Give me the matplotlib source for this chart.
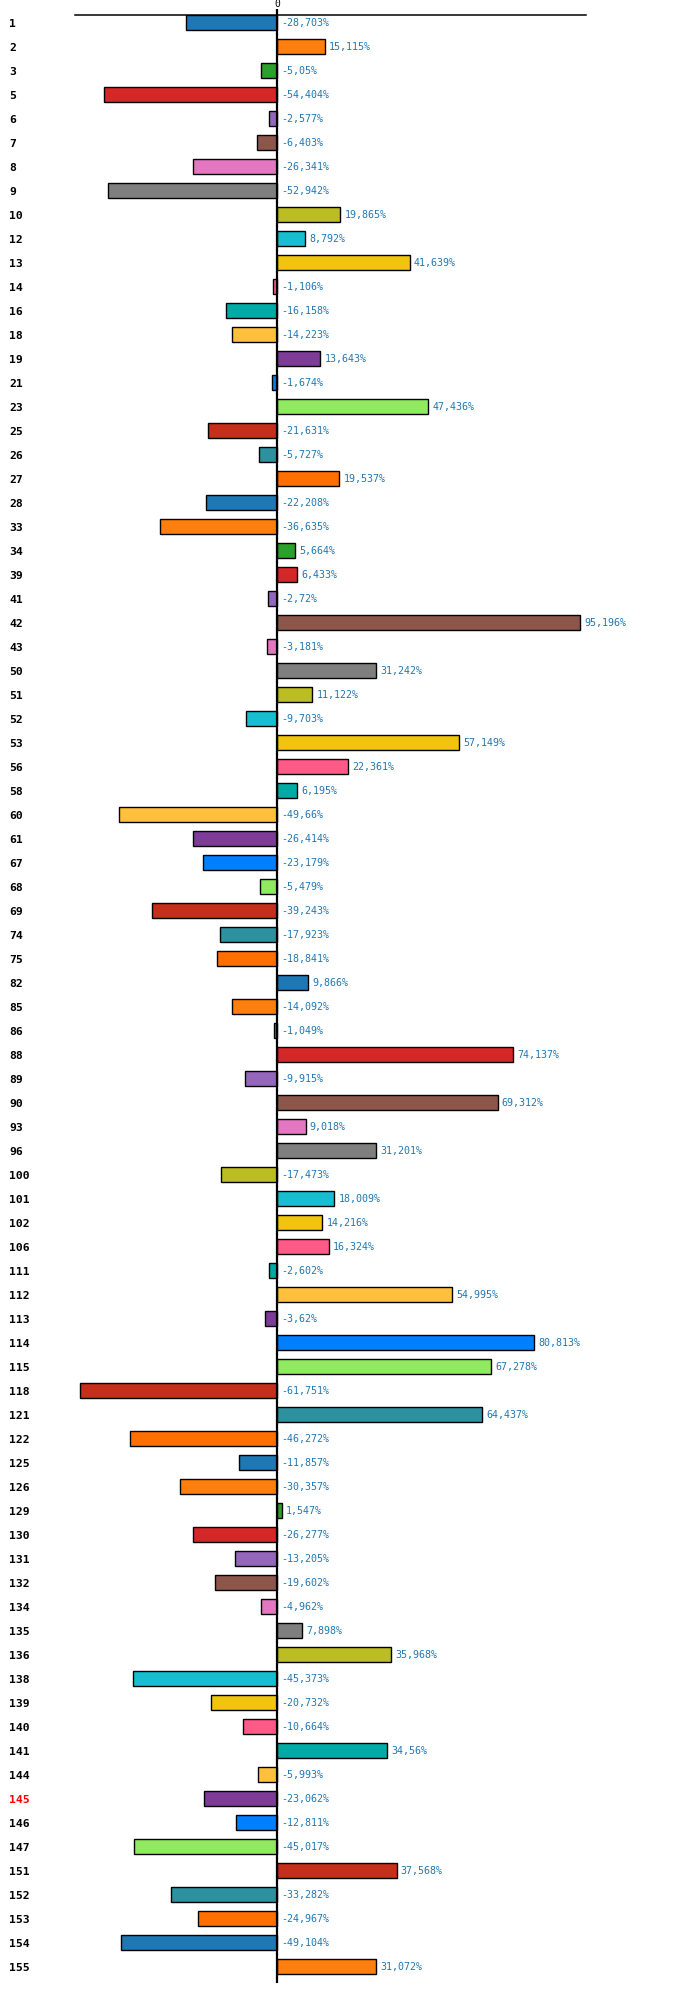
import matplotlib
matplotlib.use("Agg")
import matplotlib.pyplot as plt
from matplotlib.transforms import blended_transform_factory

categories = ["1", "2", "3", "5", "6", "7", "8", "9", "10", "12", "13", "14", "16", "18", "19",
              "21", "23", "25", "26", "27", "28", "33", "34", "39", "41", "42", "43", "50", "51",
              "52", "53", "56", "58", "60", "61", "67", "68", "69", "74", "75", "82", "85", "86",
              "88", "89", "90", "93", "96", "100", "101", "102", "106", "111", "112", "113", "114",
              "115", "118", "121", "122", "125", "126", "129", "130", "131", "132", "134", "135",
              "136", "138", "139", "140", "141", "144", "145", "146", "147", "151", "152", "153",
              "154", "155"]

values = [-28.703, 15.115, -5.05, -54.404, -2.577, -6.403, -26.341, -52.942, 19.865, 8.792,
          41.639, -1.106, -16.158, -14.223, 13.643, -1.674, 47.436, -21.631, -5.727, 19.537,
          -22.208, -36.635, 5.664, 6.433, -2.72, 95.196, -3.181, 31.242, 11.122, -9.703,
          57.149, 22.361, 6.195, -49.66, -26.414, -23.179, -5.479, -39.243, -17.923, -18.841,
          9.866, -14.092, -1.049, 74.137, -9.915, 69.312, 9.018, 31.201, -17.473, 18.009,
          14.216, 16.324, -2.602, 54.995, -3.62, 80.813, 67.278, -61.751, 64.437, -46.272,
          -11.857, -30.357, 1.547, -26.277, -13.205, -19.602, -4.962, 7.898, 35.968, -45.373,
          -20.732, -10.664, 34.56, -5.993, -23.062, -12.811, -45.017, 37.568, -33.282, -24.967,
          -49.104, 31.072]

palette = ["#1f77b4", "#ff7f0e", "#2ca02c", "#d62728", "#9467bd", "#8c564b", "#e377c2",
           "#7f7f7f", "#bcbd22", "#17becf", "#f1c40f", "#ff5a87", "#00aba5", "#ffc13b",
           "#7d3c98", "#007fff", "#8fea5f", "#c52f1c", "#2e91a0", "#ff6f00"]

highlight = "145"

W, H, DPI = 700, 2013, 100
fig = plt.figure(figsize=(W / DPI, H / DPI), dpi=DPI)
left_px, right_px, top_px, bottom_px = 75, 586, 15, 1983
ax = fig.add_axes([left_px / W, 1 - bottom_px / H, (right_px - left_px) / W,
                   (bottom_px - top_px) / H])

n = len(categories)
ypos = list(range(n))
colors = [palette[i % len(palette)] for i in range(n)]
ax.barh(ypos, values, height=0.625, color=colors, edgecolor="black", linewidth=1.0, zorder=2)

ax.set_xlim(-63.46, 97.08)
ax.set_ylim(n - 1 + 0.667, -0.333)

for s in ["left", "right", "bottom"]:
    ax.spines[s].set_visible(False)
ax.spines["top"].set_linewidth(1.1)

ax.axvline(0, color="black", linewidth=1.6, zorder=3)

ax.xaxis.tick_top()
ax.set_xticks([0])
ax.set_xticklabels(["0"], fontsize=7, family="DejaVu Sans Mono")
ax.tick_params(axis="x", length=4, width=1.6, pad=0, color="black")

ax.set_yticks(ypos)
ax.set_yticklabels(categories, fontsize=8.2, fontweight="bold", family="DejaVu Sans Mono")
ax.tick_params(axis="y", length=0, pad=(left_px - 9) * 72 / DPI)
for lbl in ax.get_yticklabels():
    lbl.set_horizontalalignment("left")
    if lbl.get_text() == highlight:
        lbl.set_color("red")

for i, v in enumerate(values):
    txt = str(v).replace(".", ",") + "%"
    ax.annotate(txt, (max(v, 0), i), xytext=(3, 0), textcoords="offset points",
                va="center", ha="left", fontsize=7.2, color="#1f77b4",
                family="DejaVu Sans Mono", zorder=4)

fig.savefig("out.png", dpi=DPI)
